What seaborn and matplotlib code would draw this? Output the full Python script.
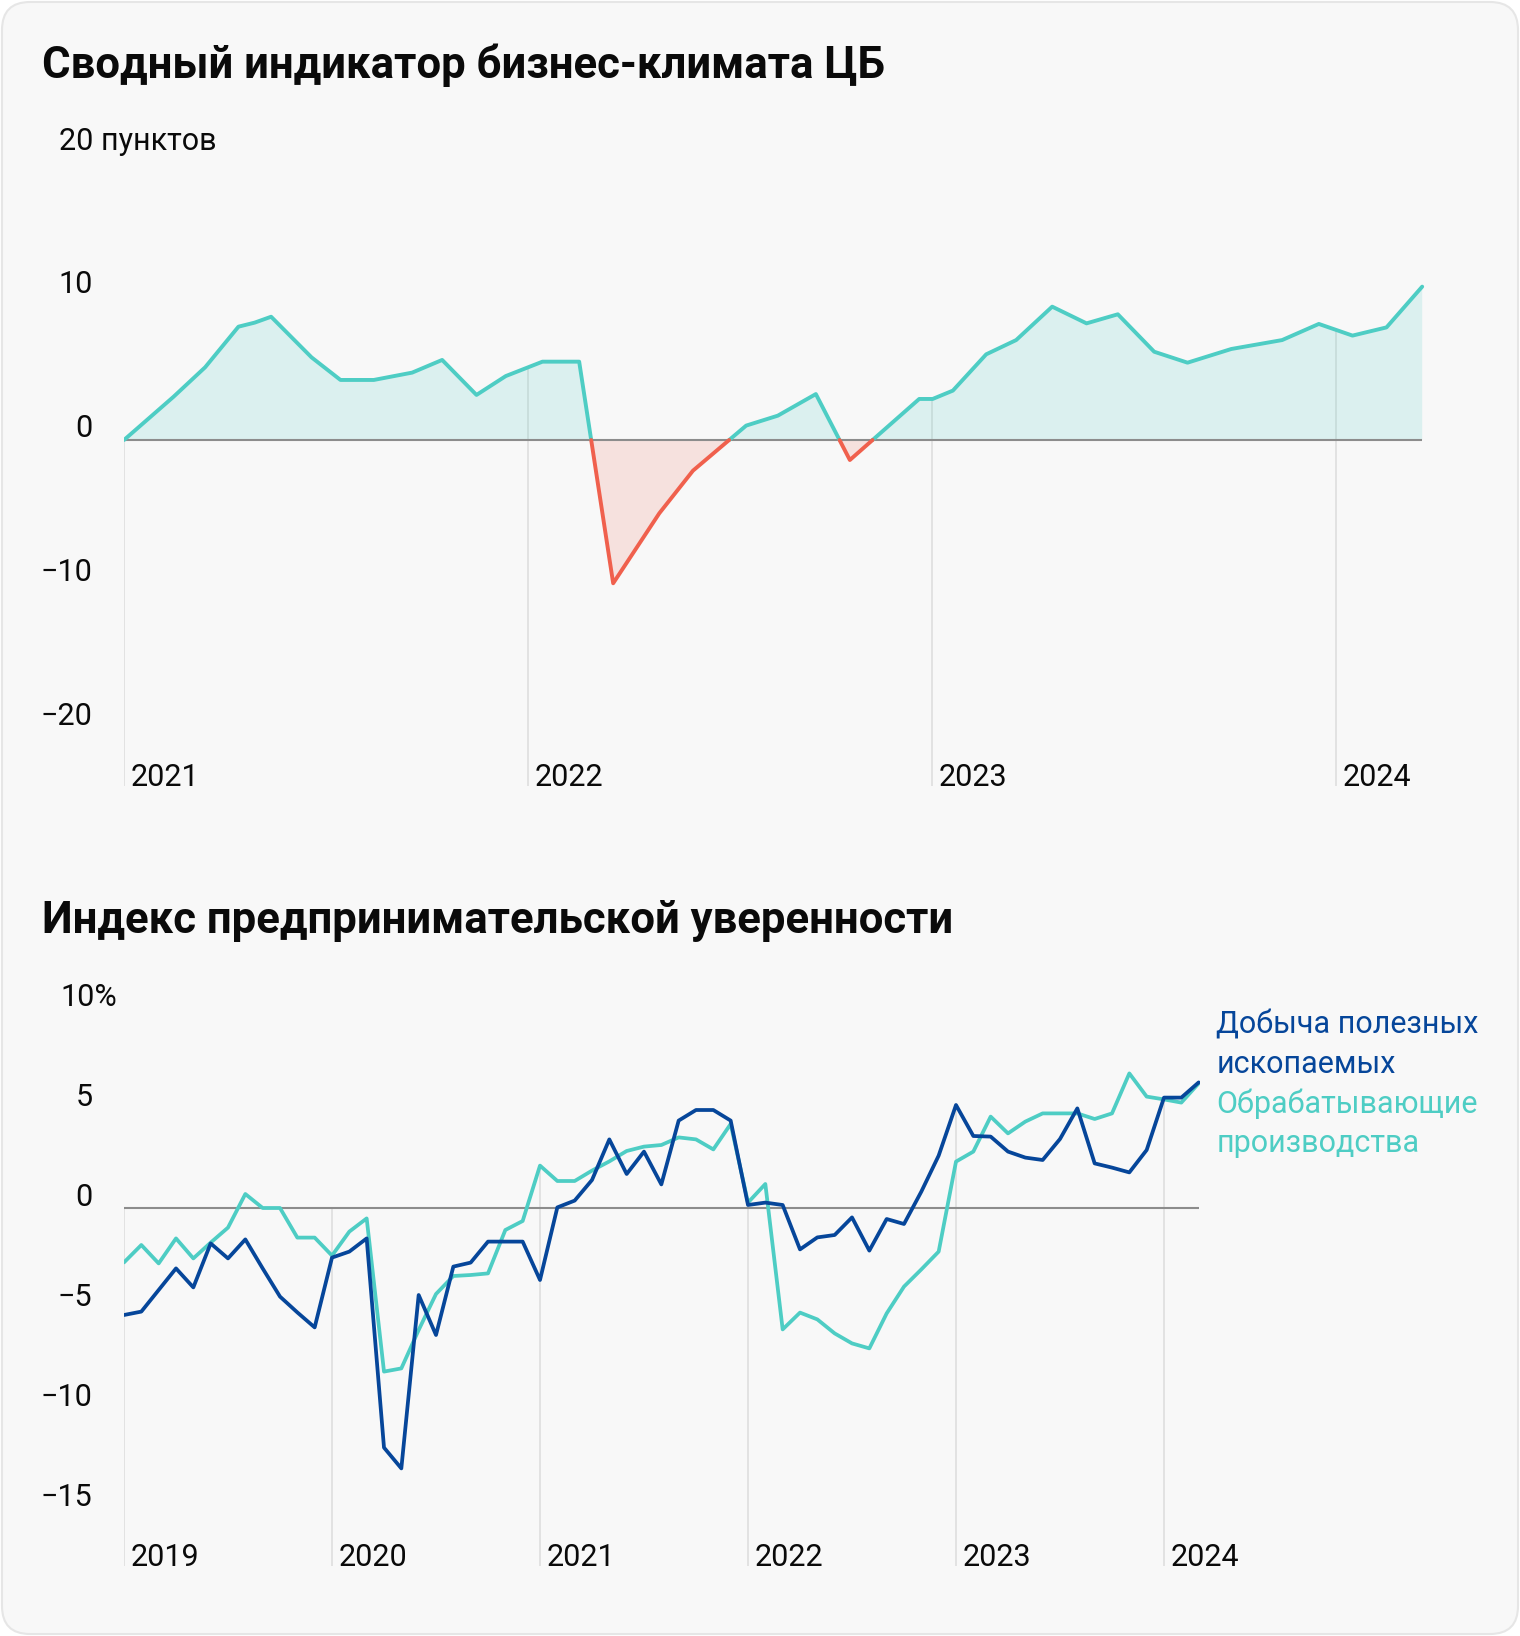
import numpy as np
import pandas as pd
import seaborn as sns
import matplotlib.pyplot as plt
from matplotlib import transforms
from matplotlib.patches import FancyBboxPatch

# --- data: CB business climate indicator (months since Jan 2021, points)
climate_t = [0, 1.47, 2.41, 3.40, 3.88, 4.37, 5.57, 6.43, 7.42, 8.56, 9.45, 10.47,
             11.34, 12.43, 13.52, 14.53, 15.90, 16.90, 18.48, 19.42, 20.55, 21.56,
             23.62, 24.02, 24.62, 25.61, 26.50, 27.57, 28.59, 29.52, 30.60, 31.59,
             32.89, 34.40, 35.49, 36.49, 37.50, 38.56]
climate_v = [0, 3.0, 5.05, 7.87, 8.15, 8.56, 5.74, 4.17, 4.17, 4.68, 5.56, 3.13,
             4.44, 5.44, 5.44, -9.95, -5.09, -2.13, 1.0, 1.69, 3.19, -1.39,
             2.85, 2.85, 3.43, 5.95, 6.94, 9.26, 8.10, 8.73, 6.13, 5.37,
             6.32, 6.94, 8.06, 7.25, 7.82, 10.65]
climate_years = ["2021", "2022", "2023", "2024"]
climate_ticks = [10, 0, -10, -20]

# --- data: business confidence index, monthly from Jan 2019
manufacturing = [-2.72, -1.85, -2.77, -1.52, -2.52, -1.73, -0.98, 0.70, 0.0, 0.0, -1.48, -1.48,
                 -2.38, -1.18, -0.52, -8.18, -8.02, -6.1, -4.3, -3.4, -3.35, -3.27, -1.1, -0.65,
                 2.12, 1.35, 1.35, 1.87, 2.33, 2.85, 3.07, 3.15, 3.53, 3.43, 2.93, 4.2,
                 0.27, 1.2, -6.07, -5.23, -5.57, -6.27, -6.77, -7.02, -5.27, -3.93, -3.07, -2.18,
                 2.32, 2.82, 4.57, 3.73, 4.32, 4.73, 4.73, 4.73, 4.45, 4.73, 6.73, 5.57,
                 5.43, 5.27, 6.23]
mining = [-5.35, -5.18, -4.1, -3.02, -3.97, -1.77, -2.52, -1.57, -3.02, -4.43, -5.22, -5.97,
          -2.48, -2.18, -1.52, -11.98, -13.02, -4.35, -6.35, -2.93, -2.73, -1.68, -1.68, -1.68,
          -3.6, 0.03, 0.37, 1.4, 3.43, 1.7, 2.82, 1.18, 4.37, 4.9, 4.9, 4.37,
          0.15, 0.27, 0.15, -2.07, -1.47, -1.35, -0.47, -2.13, -0.55, -0.8, 0.82, 2.62,
          5.15, 3.6, 3.57, 2.82, 2.52, 2.4, 3.45, 4.98, 2.23, 2.02, 1.78, 2.9,
          5.52, 5.52, 6.28]
conf_years = ["2019", "2020", "2021", "2022", "2023", "2024"]
conf_ticks = [5, 0, -5, -10, -15]
mining_label = ["Добыча полезных", "ископаемых"]
manuf_label = ["Обрабатывающие", "производства"]

W, H = 1520, 1636
TEAL = "#4ecdc4"
RED = "#f0604d"
NAVY = "#06469a"
ZERO = "#8c8c8c"
GRID = "#dedede"
TXT = "#0a0a0a"

sns.set_style("white")
plt.rcParams["font.family"] = ["Roboto", "DejaVu Sans"]

fig = plt.figure(figsize=(W / 100, H / 100), dpi=100)
fig.patch.set_facecolor("white")
bg = FancyBboxPatch((2, 2), W - 4, H - 4, boxstyle="round,pad=0,rounding_size=28",
                    transform=transforms.IdentityTransform(),
                    facecolor="#f8f8f8", edgecolor="#e6e6e6", linewidth=1.5, zorder=-5)
fig.add_artist(bg)


def rect(left, top, right, bottom):
    return [left / W, 1 - bottom / H, (right - left) / W, (bottom - top) / H]


def ftext(x, y, s, **kw):
    fig.text(x / W, 1 - y / H, s, va="baseline", color=kw.pop("color", TXT), **kw)


# ---------------- top chart ----------------
ax = fig.add_axes(rect(124, 130, 1440, 786))
ax.set_facecolor("none")
px_m, px_u = 404 / 12, 14.4
ax.set_xlim(0, (1440 - 124) / px_m)
y0 = (440 - 786) / px_u
ax.set_ylim(y0, (440 - 130) / px_u)

t = np.array(climate_t)
v = np.array(climate_v)
xs, ys = [t[0]], [v[0]]
for i in range(1, len(t)):
    if v[i - 1] * v[i] < 0:
        xs.append(t[i - 1] + (t[i] - t[i - 1]) * v[i - 1] / (v[i - 1] - v[i]))
        ys.append(0.0)
    xs.append(t[i])
    ys.append(v[i])
xs, ys = np.array(xs), np.array(ys)

rows, seg, prev = [], 0, None
for i in range(len(xs) - 1):
    s = "pos" if ys[i] + ys[i + 1] >= 0 else "neg"
    if s != prev:
        seg += 1
        rows.append((xs[i], ys[i], s, seg))
        prev = s
    rows.append((xs[i + 1], ys[i + 1], s, seg))
df = pd.DataFrame(rows, columns=["t", "v", "sign", "seg"])

for k, yr in enumerate(climate_years):
    top = max(0, np.interp(12 * k, t, v))
    ax.vlines(12 * k, y0, top, color=GRID, lw=1.2, zorder=1)
    ax.text(12 * k, y0, yr, fontsize=22, ha="left", va="baseline", color=TXT,
            transform=transforms.offset_copy(ax.transData, fig=fig, x=7, y=0, units="dots"))

ax.fill_between(xs, ys, 0, where=ys >= 0, color=TEAL, alpha=0.17, lw=0, zorder=2)
ax.fill_between(xs, ys, 0, where=ys <= 0, color=RED, alpha=0.15, lw=0, zorder=2)
ax.hlines(0, t[0], t[-1], color=ZERO, lw=1.5, zorder=3)
sns.lineplot(data=df, x="t", y="v", hue="sign", units="seg", estimator=None, sort=False,
             palette={"pos": TEAL, "neg": RED}, linewidth=2.8, legend=False, ax=ax, zorder=4)

lab_tr = transforms.offset_copy(transforms.blended_transform_factory(fig.transFigure, ax.transData),
                                fig=fig, x=0, y=3, units="dots")
for val in climate_ticks:
    ax.text(92.7 / W, val, str(val).replace("-", "\u2212"), fontsize=22, ha="right",
            va="baseline", color=TXT, transform=lab_tr)
ax.set_xticks([])
ax.set_yticks([])
ax.set_xlabel("")
ax.set_ylabel("")
sns.despine(ax=ax, left=True, bottom=True)

ftext(41.5, 78, "Сводный индикатор бизнес-климата ЦБ", fontsize=31.5, fontweight="bold")
ftext(59.5, 150, "20 пунктов", fontsize=22)

# ---------------- bottom chart ----------------
bx = fig.add_axes(rect(124, 985, 1200, 1566))
bx.set_facecolor("none")
px_m2, px_u2 = 208 / 12, 20.0
bx.set_xlim(0, (1200 - 124) / px_m2)
b0 = (1208 - 1566) / px_u2
bx.set_ylim(b0, (1208 - 985) / px_u2)

months = np.arange(len(mining))
long = pd.DataFrame({
    "m": np.concatenate([months, months]),
    "val": manufacturing + mining,
    "series": ["manuf"] * len(months) + ["mining"] * len(months),
})

for k, yr in enumerate(conf_years):
    m = 12 * k
    top = max(0, np.interp(m, months, manufacturing), np.interp(m, months, mining))
    bx.vlines(m, b0, top, color=GRID, lw=1.2, zorder=1)
    bx.text(m, b0, yr, fontsize=22, ha="left", va="baseline", color=TXT,
            transform=transforms.offset_copy(bx.transData, fig=fig, x=7, y=0, units="dots"))

bx.hlines(0, months[0], months[-1], color=ZERO, lw=1.5, zorder=2)
sns.lineplot(data=long, x="m", y="val", hue="series", hue_order=["manuf", "mining"],
             palette={"manuf": TEAL, "mining": NAVY}, linewidth=2.7, legend=False,
             ax=bx, zorder=4)

lab_tr2 = transforms.offset_copy(transforms.blended_transform_factory(fig.transFigure, bx.transData),
                                 fig=fig, x=0, y=2.5, units="dots")
for val in conf_ticks:
    bx.text(92.5 / W, val, str(val).replace("-", "\u2212"), fontsize=22, ha="right",
            va="baseline", color=TXT, transform=lab_tr2)
bx.set_xticks([])
bx.set_yticks([])
bx.set_xlabel("")
bx.set_ylabel("")
sns.despine(ax=bx, left=True, bottom=True)

ftext(42.5, 933, "Индекс предпринимательской уверенности", fontsize=31.5, fontweight="bold")
ftext(60, 1006, "10%", fontsize=22)

ftext(1216.5, 1033.5, mining_label[0], fontsize=22, color=NAVY)
ftext(1216.5, 1073, mining_label[1], fontsize=22, color=NAVY)
ftext(1216.5, 1113, manuf_label[0], fontsize=22, color=TEAL)
ftext(1216.5, 1152.5, manuf_label[1], fontsize=22, color=TEAL)

fig.savefig("out.png", dpi=100, facecolor=fig.get_facecolor())
